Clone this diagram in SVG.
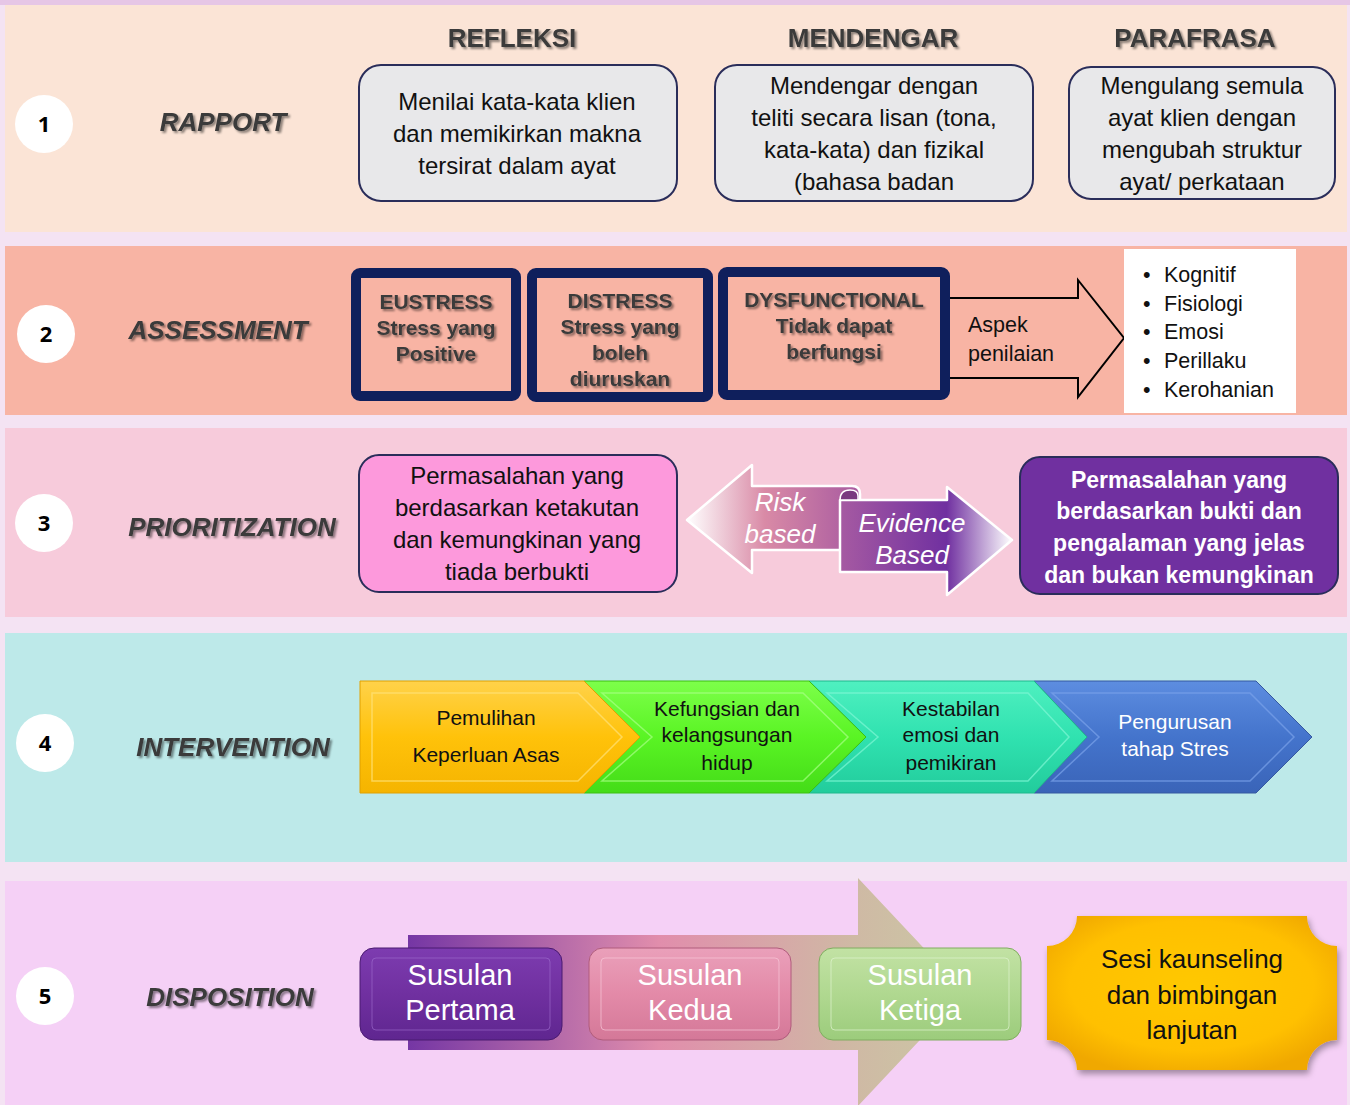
<svg xmlns="http://www.w3.org/2000/svg" width="1350" height="1105" viewBox="0 0 1350 1105">
<defs>
<style>
.hdr{font-family:"Liberation Sans",Arial,sans-serif;font-weight:bold;font-size:26px;fill:#3a3a3a;text-anchor:middle;filter:url(#sh)}
.lbl{font-family:"Liberation Sans",Arial,sans-serif;font-weight:bold;font-style:italic;font-size:26px;fill:#3a3a3a;text-anchor:middle;filter:url(#sh)}
.num{font-family:"Open Sans","Liberation Sans",sans-serif;font-weight:bold;font-size:22px;fill:#000;text-anchor:middle}
.t{font-family:"Liberation Sans",Arial,sans-serif;font-size:24px;fill:#111;text-anchor:middle}
.tb{font-family:"Liberation Sans",Arial,sans-serif;font-weight:bold;font-size:21px;fill:#3a3a3a;text-anchor:middle;filter:url(#sh)}
.ts{font-family:"Liberation Sans",Arial,sans-serif;font-size:21.5px;fill:#111}
.tw{font-family:"Liberation Sans",Arial,sans-serif;font-weight:bold;font-size:23px;fill:#fff;text-anchor:middle}
.ti{font-family:"Liberation Sans",Arial,sans-serif;font-style:italic;font-size:26px;fill:#fff;text-anchor:middle}
.tc{font-family:"Liberation Sans",Arial,sans-serif;font-size:21px;fill:#111;text-anchor:middle}
.tcw{font-family:"Liberation Sans",Arial,sans-serif;font-size:21px;fill:#fff;text-anchor:middle}
.ts5{font-family:"Liberation Sans",Arial,sans-serif;font-size:29px;fill:#fff;text-anchor:middle}
.tg{font-family:"Liberation Sans",Arial,sans-serif;font-size:26px;fill:#111;text-anchor:middle}
.circ{fill:#fff}
.gbox{fill:#e8e8ea;stroke:#2a2d5a;stroke-width:2}
.nbox{fill:#f8b4a4;stroke:#0f1f5c;stroke-width:10}
</style>
<filter id="sh" x="-10%" y="-20%" width="130%" height="150%"><feDropShadow dx="2" dy="2" stdDeviation="1.2" flood-color="#000" flood-opacity="0.45"/></filter>
<filter id="bsh" x="-10%" y="-10%" width="130%" height="130%"><feDropShadow dx="2" dy="4" stdDeviation="3" flood-color="#000" flood-opacity="0.35"/></filter>
<linearGradient id="gl" x1="687" y1="0" x2="860" y2="0" gradientUnits="userSpaceOnUse"><stop offset="0" stop-color="#ffffff"/><stop offset="0.45" stop-color="#d98aa6"/><stop offset="1" stop-color="#a85aa0"/></linearGradient>
<linearGradient id="gr" x1="840" y1="0" x2="1012" y2="0" gradientUnits="userSpaceOnUse"><stop offset="0" stop-color="#a65aa2"/><stop offset="0.62" stop-color="#7030a0"/><stop offset="1" stop-color="#ffffff"/></linearGradient>
<linearGradient id="cy" x1="0" y1="0" x2="0" y2="1"><stop offset="0" stop-color="#ffd24a"/><stop offset="0.5" stop-color="#ffc20a"/><stop offset="1" stop-color="#f5b400"/></linearGradient>
<linearGradient id="cg" x1="0" y1="0" x2="0" y2="1"><stop offset="0" stop-color="#7dff4a"/><stop offset="0.5" stop-color="#5af424"/><stop offset="1" stop-color="#44dc18"/></linearGradient>
<linearGradient id="ct" x1="0" y1="0" x2="0" y2="1"><stop offset="0" stop-color="#4ff0c0"/><stop offset="0.5" stop-color="#30e2b0"/><stop offset="1" stop-color="#22cc9c"/></linearGradient>
<linearGradient id="cb" x1="0" y1="0" x2="0" y2="1"><stop offset="0" stop-color="#5d8de0"/><stop offset="0.5" stop-color="#4474cc"/><stop offset="1" stop-color="#3a64b8"/></linearGradient>
<linearGradient id="ba" x1="408" y1="0" x2="965" y2="0" gradientUnits="userSpaceOnUse"><stop offset="0" stop-color="#6e2ea0"/><stop offset="0.45" stop-color="#e08aa8"/><stop offset="0.8" stop-color="#cdb8a0"/><stop offset="1" stop-color="#c8c8a0"/></linearGradient>
<linearGradient id="sp" x1="0" y1="0" x2="0" y2="1"><stop offset="0" stop-color="#7d3cb0"/><stop offset="0.5" stop-color="#7030a0"/><stop offset="1" stop-color="#5f2690"/></linearGradient>
<linearGradient id="sk" x1="0" y1="0" x2="0" y2="1"><stop offset="0" stop-color="#eaa0ba"/><stop offset="0.5" stop-color="#e38aa8"/><stop offset="1" stop-color="#d47898"/></linearGradient>
<linearGradient id="sg" x1="0" y1="0" x2="0" y2="1"><stop offset="0" stop-color="#c2e2a4"/><stop offset="0.5" stop-color="#b0d890"/><stop offset="1" stop-color="#9ccc7c"/></linearGradient>
<radialGradient id="gold" cx="0.5" cy="0.45" r="0.6"><stop offset="0" stop-color="#ffc800"/><stop offset="0.7" stop-color="#ffc000"/><stop offset="1" stop-color="#f0a800"/></radialGradient>
</defs>

<!-- backgrounds -->
<rect x="0" y="0" width="1350" height="1105" fill="#f4e3f3"/>
<rect x="0" y="0" width="1350" height="5" fill="#e6c6e6"/>
<rect x="5" y="5" width="1342" height="227" fill="#fbe4d6"/>
<rect x="5" y="246" width="1342" height="169" fill="#f8b4a4"/>
<rect x="5" y="428" width="1342" height="189" fill="#f7cbdb"/>
<rect x="5" y="633" width="1342" height="229" fill="#bde9e9"/>
<rect x="5" y="881" width="1342" height="224" fill="#f5d0f6"/>

<g id="connectors">
<path d="M408,935 L858,935 L858,878 L965,992 L858,1106 L858,1050 L408,1050 Z" fill="url(#ba)" opacity="0.95"/>
</g>

<!-- Row 1 -->
<g id="row1">
<circle class="circ" cx="44" cy="124" r="29"/>
<text class="num" x="44" y="132">1</text>
<text class="lbl" x="223" y="131">RAPPORT</text>
</g>
<g id="refleksi">
<text class="hdr" x="512" y="47">REFLEKSI</text>
<rect class="gbox" x="359" y="65" width="318" height="136" rx="22"/>
<text class="t" x="517" y="110">Menilai kata-kata klien</text>
<text class="t" x="517" y="142">dan memikirkan makna</text>
<text class="t" x="517" y="174">tersirat dalam ayat</text>
</g>
<g id="mendengar">
<text class="hdr" x="873" y="47">MENDENGAR</text>
<rect class="gbox" x="715" y="65" width="318" height="136" rx="22"/>
<text class="t" x="874" y="94">Mendengar dengan</text>
<text class="t" x="874" y="126">teliti secara lisan (tona,</text>
<text class="t" x="874" y="158">kata-kata) dan fizikal</text>
<text class="t" x="874" y="190">(bahasa badan</text>
</g>
<g id="parafrasa">
<text class="hdr" x="1195" y="47">PARAFRASA</text>
<rect class="gbox" x="1069" y="67" width="266" height="132" rx="22"/>
<text class="t" x="1202" y="94">Mengulang semula</text>
<text class="t" x="1202" y="126">ayat klien dengan</text>
<text class="t" x="1202" y="158">mengubah struktur</text>
<text class="t" x="1202" y="190">ayat/ perkataan</text>
</g>

<!-- Row 2 -->
<g id="row2">
<circle class="circ" cx="46" cy="334" r="29"/>
<text class="num" x="46" y="342">2</text>
<text class="lbl" x="218" y="339">ASSESSMENT</text>
</g>
<g id="eustress">
<rect class="nbox" x="356" y="273" width="160" height="123" rx="4"/>
<text class="tb" x="436" y="309">EUSTRESS</text>
<text class="tb" x="436" y="335">Stress yang</text>
<text class="tb" x="436" y="361">Positive</text>
</g>
<g id="distress">
<rect class="nbox" x="532" y="273" width="176" height="124" rx="4"/>
<text class="tb" x="620" y="308">DISTRESS</text>
<text class="tb" x="620" y="334">Stress yang</text>
<text class="tb" x="620" y="360">boleh</text>
<text class="tb" x="620" y="386">diuruskan</text>
</g>
<g id="aspek">
<path d="M948,298 L1078,298 L1078,280 L1124,338 L1078,397 L1078,378 L948,378" fill="none" stroke="#000" stroke-width="2"/>
<text class="ts" x="968" y="332">Aspek</text>
<text class="ts" x="968" y="361">penilaian</text>
</g>
<g id="dysfunctional">
<rect class="nbox" x="723" y="272" width="222" height="123" rx="4"/>
<text class="tb" x="834" y="307">DYSFUNCTIONAL</text>
<text class="tb" x="834" y="333">Tidak dapat</text>
<text class="tb" x="834" y="359">berfungsi</text>
</g>
<g id="aspek-list">
<rect x="1124" y="249" width="172" height="164" fill="#fff"/>
<text class="ts" x="1143" y="282">•</text><text class="ts" x="1164" y="282">Kognitif</text>
<text class="ts" x="1143" y="311">•</text><text class="ts" x="1164" y="311">Fisiologi</text>
<text class="ts" x="1143" y="339">•</text><text class="ts" x="1164" y="339">Emosi</text>
<text class="ts" x="1143" y="368">•</text><text class="ts" x="1164" y="368">Perillaku</text>
<text class="ts" x="1143" y="397">•</text><text class="ts" x="1164" y="397">Kerohanian</text>
</g>

<!-- Row 3 -->
<g id="row3">
<circle class="circ" cx="44" cy="523" r="29"/>
<text class="num" x="44" y="531">3</text>
<text class="lbl" x="232" y="536">PRIORITIZATION</text>
</g>
<g id="risk-fear">
<rect x="359" y="455" width="318" height="137" rx="20" fill="#fd99dc" stroke="#2a2d5a" stroke-width="2"/>
<text class="t" x="517" y="484">Permasalahan  yang</text>
<text class="t" x="517" y="516">berdasarkan ketakutan</text>
<text class="t" x="517" y="548">dan kemungkinan yang</text>
<text class="t" x="517" y="580">tiada berbukti</text>
</g>
<g id="risk-evidence">
<path d="M687,520 L752,465 L752,486 L852,486 Q860,486 860,494 L860,550 L752,550 L752,573 Z" fill="url(#gl)" stroke="#fff" stroke-width="2.5" stroke-linejoin="round"/>
<path d="M840,500 L947,500 L947,487 L1012,540 L947,595 L947,572 L840,572 Z" fill="url(#gr)" stroke="#fff" stroke-width="2.5" stroke-linejoin="round"/>
<path d="M840,500 Q840,490 850,490 Q858,490 858,496 L858,500 Z" fill="#7a3a80" stroke="#fff" stroke-width="1.5"/>
<text class="ti" x="780" y="511">Risk</text>
<text class="ti" x="780" y="543">based</text>
<text class="ti" x="912" y="532">Evidence</text>
<text class="ti" x="912" y="564">Based</text>
</g>
<g id="evidence-box">
<rect x="1020" y="457" width="318" height="137" rx="20" fill="#7030a0" stroke="#2a2d5a" stroke-width="2"/>
<text class="tw" x="1179" y="488">Permasalahan yang</text>
<text class="tw" x="1179" y="519">berdasarkan bukti dan</text>
<text class="tw" x="1179" y="551">pengalaman yang jelas</text>
<text class="tw" x="1179" y="583">dan bukan kemungkinan</text>
</g>

<!-- Row 4 -->
<g id="row4">
<circle class="circ" cx="45" cy="743" r="29"/>
<text class="num" x="45" y="751">4</text>
<text class="lbl" x="233" y="756">INTERVENTION</text>
</g>
<g id="pengurusan">
<path d="M1034,681 L1256,681 L1312,737 L1256,793 L1034,793 L1087,737 Z" fill="url(#cb)" stroke="#3558a0" stroke-width="1"/>
<path d="M1052,693 L1250,693 L1294,737 L1250,781 L1052,781 L1099,737 Z" fill="none" stroke="#7aa2ea" stroke-width="1.5" opacity="0.7"/>
<text class="tcw" x="1175" y="729">Pengurusan</text>
<text class="tcw" x="1175" y="756">tahap Stres</text>
</g>
<g id="kestabilan">
<path d="M809,681 L1034,681 L1087,737 L1034,793 L809,793 L866,737 Z" fill="url(#ct)" stroke="#1fb88c" stroke-width="1"/>
<path d="M827,693 L1028,693 L1069,737 L1028,781 L827,781 L878,737 Z" fill="none" stroke="#7ff6d4" stroke-width="1.5" opacity="0.7"/>
<text class="tc" x="951" y="716">Kestabilan</text>
<text class="tc" x="951" y="742">emosi dan</text>
<text class="tc" x="951" y="770">pemikiran</text>
</g>
<g id="kefungsian">
<path d="M584,681 L809,681 L866,737 L809,793 L584,793 L640,737 Z" fill="url(#cg)" stroke="#3cc010" stroke-width="1"/>
<path d="M602,693 L803,693 L848,737 L803,781 L602,781 L652,737 Z" fill="none" stroke="#a8ff86" stroke-width="1.5" opacity="0.7"/>
<text class="tc" x="727" y="716">Kefungsian dan</text>
<text class="tc" x="727" y="742">kelangsungan</text>
<text class="tc" x="727" y="770">hidup</text>
</g>
<g id="pemulihan">
<path d="M360,681 L584,681 L640,737 L584,793 L360,793 Z" fill="url(#cy)" stroke="#e0a000" stroke-width="1"/>
<path d="M372,693 L578,693 L622,737 L578,781 L372,781 Z" fill="none" stroke="#ffe27a" stroke-width="1.5" opacity="0.7"/>
<text class="tc" x="486" y="725">Pemulihan</text>
<text class="tc" x="486" y="762">Keperluan Asas</text>
</g>

<!-- Row 5 -->
<g id="row5">
<circle class="circ" cx="45" cy="996" r="29"/>
<text class="num" x="45" y="1004">5</text>
<text class="lbl" x="230" y="1006">DISPOSITION</text>
</g>
<g id="susulan1">
<rect x="360" y="948" width="202" height="92" rx="14" fill="url(#sp)" stroke="#4a1a70" stroke-width="1"/>
<rect x="372" y="958" width="178" height="72" rx="4" fill="none" stroke="#a070d0" stroke-width="1" opacity="0.6"/>
<text class="ts5" x="460" y="985">Susulan</text>
<text class="ts5" x="460" y="1020">Pertama</text>
</g>
<g id="susulan2">
<rect x="589" y="948" width="202" height="92" rx="14" fill="url(#sk)" stroke="#b05c7c" stroke-width="1"/>
<rect x="601" y="958" width="178" height="72" rx="4" fill="none" stroke="#f8c8d8" stroke-width="1" opacity="0.7"/>
<text class="ts5" x="690" y="985">Susulan</text>
<text class="ts5" x="690" y="1020">Kedua</text>
</g>
<g id="susulan3">
<rect x="819" y="948" width="202" height="92" rx="14" fill="url(#sg)" stroke="#80ac60" stroke-width="1"/>
<rect x="831" y="958" width="178" height="72" rx="4" fill="none" stroke="#e0f4d0" stroke-width="1" opacity="0.7"/>
<text class="ts5" x="920" y="985">Susulan</text>
<text class="ts5" x="920" y="1020">Ketiga</text>
</g>
<g id="sesi">
<path d="M1077,916 L1307,916 A30,30 0 0 0 1337,946 L1337,1040 A30,30 0 0 0 1307,1070 L1077,1070 A30,30 0 0 0 1047,1040 L1047,946 A30,30 0 0 0 1077,916 Z" fill="url(#gold)" filter="url(#bsh)"/>
<text class="tg" x="1192" y="968">Sesi kaunseling</text>
<text class="tg" x="1192" y="1004">dan bimbingan</text>
<text class="tg" x="1192" y="1039">lanjutan</text>
</g>
</svg>
